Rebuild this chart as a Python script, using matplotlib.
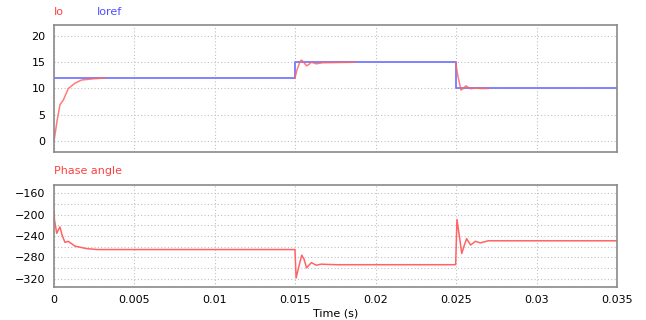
import numpy as np
import matplotlib.pyplot as plt

# reference current steps
ioref_t = [0.0, 0.015, 0.015, 0.025, 0.025, 0.035]
ioref_v = [12, 12, 15, 15, 10, 10]

# measured output current (visible parts of the trace)
io_t = [0.0, 0.0002, 0.00037, 0.00058, 0.00089, 0.0013, 0.0017, 0.00244, 0.0032, np.nan,
        0.01498, 0.0151, 0.0153, 0.0154, 0.01555, 0.0157, 0.01585, 0.0160, 0.0163, 0.0167, 0.0187, np.nan,
        0.02497, 0.0251, 0.0253, 0.02545, 0.0256, 0.0259, 0.0262, 0.0265, 0.0270]
io_v = [0.0, 4.0, 6.9, 7.8, 10.0, 11.0, 11.6, 11.85, 12.0, np.nan,
        12.0, 13.5, 15.2, 15.4, 14.9, 14.3, 14.6, 15.0, 14.7, 14.9, 15.0, np.nan,
        15.0, 12.5, 9.7, 10.0, 10.5, 9.95, 10.1, 10.0, 10.0]

# phase angle
ph_t = [0.0, 0.00003, 0.00017, 0.00028, 0.00037, 0.0005, 0.00068, 0.00089, 0.0013, 0.002, 0.0027,
        0.01498, 0.01505, 0.0152, 0.0154, 0.01555, 0.0157, 0.0160, 0.0163, 0.0166, 0.0175,
        0.02497, 0.02505, 0.0252, 0.02535, 0.0255, 0.02565, 0.0259, 0.0262, 0.0265, 0.0270, 0.035]
ph_v = [-195, -210, -235, -228, -223, -238, -252, -250, -259, -263.6, -265.5,
        -265.5, -319, -300, -276, -284, -300, -290, -295, -293, -294,
        -294, -209, -240, -273, -258, -245, -257, -250, -253, -249, -249]

red = '#ff6464'
blue = '#7878ff'

plt.rcParams['font.family'] = 'DejaVu Sans'
fig = plt.figure(figsize=(6.46, 3.2), dpi=100)
ax1 = fig.add_axes([0.0836, 0.525, 0.8715, 0.397])
ax2 = fig.add_axes([0.0836, 0.103, 0.8715, 0.319])

ax1.plot(ioref_t, ioref_v, color=blue, lw=1.3)
ax1.plot(io_t, io_v, color=red, lw=1.1, alpha=0.85)
ax1.set_ylim(-2.1, 22.1)
ax1.set_yticks([0, 5, 10, 15, 20])

ax2.plot(ph_t, ph_v, color=red, lw=1.1)
ax2.set_ylim(-336, -144)
ax2.set_yticks([-160, -200, -240, -280, -320])
ax2.set_yticks(np.arange(-320, -140, 20), minor=True)

for ax in (ax1, ax2):
    ax.set_xlim(0, 0.035)
    ax.set_xticks(np.arange(0, 0.0351, 0.005))
    ax.grid(True, which='both', color='#c0c0c0', linestyle=(0, (1, 2)), lw=0.8)
    ax.tick_params(length=0, labelsize=8, pad=6, which='both')
    for s in ax.spines.values():
        s.set_color('#8a8a8a')
        s.set_linewidth(1.2)

ax1.set_xticklabels([])
ax2.set_xticklabels(['0', '0.005', '0.01', '0.015', '0.02', '0.025', '0.03', '0.035'])
ax2.set_xlabel('Time (s)', fontsize=8, labelpad=2)

fig.text(0.0836, 0.962, 'Io', color='#ff4040', fontsize=8, va='center')
fig.text(0.150, 0.962, 'Ioref', color='#5050ff', fontsize=8, va='center')
fig.text(0.0836, 0.465, 'Phase angle', color='#ff4040', fontsize=8, va='center')
# clipped fragment of the caption above the chart
fig.text(0.322, 1.035, 'g', family='serif', fontsize=14, ha='center', va='center')

fig.savefig('out.png', dpi=100)
